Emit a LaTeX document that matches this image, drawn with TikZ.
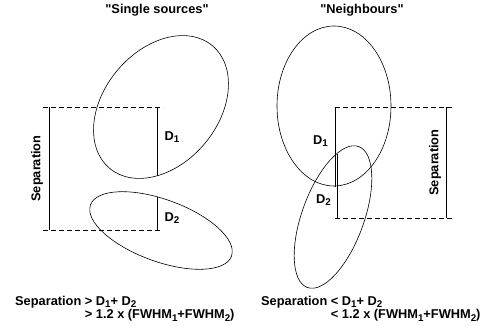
\documentclass[tikz,border=0pt]{standalone}
\usepackage{fontspec}
\setmainfont{Liberation Sans}[Ligatures=TeXOff]
\newcommand{\idx}[1]{\raisebox{-0.3ex}{\fontsize{9.8}{9.8}\selectfont #1}}

\begin{document}
\begin{tikzpicture}[x=1pt,y=1pt,
    txt/.style={font=\fontsize{12.8}{14}\selectfont\bfseries, inner sep=0pt},
    outline/.style={line width=0.6pt},
    guide/.style={line width=0.6pt, dash pattern=on 5pt off 3pt}]
    \useasboundingbox (0,0) rectangle (491,325);

    % Titres
    \node[txt] (titleA) at (157,315) {"Single sources"};
    \node[txt] (titleB) at (362,315) {"Neighbours"};

    % Sources seules : deux ellipses
    \draw[outline] (161,218) ellipse[x radius=80pt, y radius=57pt, rotate=50];
    \draw[outline] (161,94.5) ellipse[x radius=75pt, y radius=31pt, rotate=-20];

    % Voisins : deux ellipses
    \draw[outline] (334,219) ellipse[x radius=80pt, y radius=57pt, rotate=90];
    \draw[outline] (333,108) ellipse[x radius=75pt, y radius=31pt, rotate=70];

    % Repères (gauche)
    \coordinate (Ltl) at (43,218);  \coordinate (Ltr) at (163,218);
    \coordinate (Lbl) at (43,95);   \coordinate (Lbr) at (160,95);
    \coordinate (LsA) at (49,218);  \coordinate (LsB) at (49,95);
    \coordinate (LdA) at (157,218); \coordinate (LdB) at (157,149);
    \coordinate (LeA) at (157,128.5); \coordinate (LeB) at (157,95);
    \draw[guide] (Ltl) -- (Ltr);
    \draw[guide] (Lbl) -- (Lbr);
    \draw[outline] (LsA) -- (LsB);
    \draw[outline] (LdA) -- (LdB);
    \draw[outline] (LeA) -- (LeB);

    % Repères (droite)
    \coordinate (Rtl) at (335,218); \coordinate (Rtr) at (452,218);
    \coordinate (Rbl) at (335,107); \coordinate (Rbr) at (452,107);
    \coordinate (RsA) at (446,218); \coordinate (RsB) at (446,107);
    \coordinate (RdA) at (335,218); \coordinate (RdB) at (335,138.5);
    \coordinate (ReA) at (337,171); \coordinate (ReB) at (337,107);
    \draw[guide] (Rtl) -- (Rtr);
    \draw[guide] (Rbl) -- (Rbr);
    \draw[outline] (RsA) -- (RsB);
    \draw[outline] (RdA) -- (RdB);
    \draw[outline] (ReA) -- (ReB);

    % Labels
    \node[txt, rotate=90] (sepA) at (37,156.5) {Separation};
    \node[txt, rotate=90] (sepB) at (435,162.5) {Separation};
    \node[txt] (dA1) at (172,187.5) {D\idx{1}};
    \node[txt] (dA2) at (172,107) {D\idx{2}};
    \node[txt] (dB1) at (320.5,184) {D\idx{1}};
    \node[txt] (dB2) at (323.5,124.5) {D\idx{2}};

    % Conditions
    \node[txt, anchor=base west] (condA) at (15,20) {\begin{tabular}[t]{@{}l@{ }l@{}}
        Separation & > D\idx{1}+ D\idx{2}\\
                   & > 1.2 x (FWHM\idx{1}+FWHM\idx{2})
    \end{tabular}};
    \node[txt, anchor=base west] (condB) at (261,20) {\begin{tabular}[t]{@{}l@{ }l@{}}
        Separation & < D\idx{1}+ D\idx{2}\\
                   & < 1.2 x (FWHM\idx{1}+FWHM\idx{2})
    \end{tabular}};
\end{tikzpicture}
\end{document}
